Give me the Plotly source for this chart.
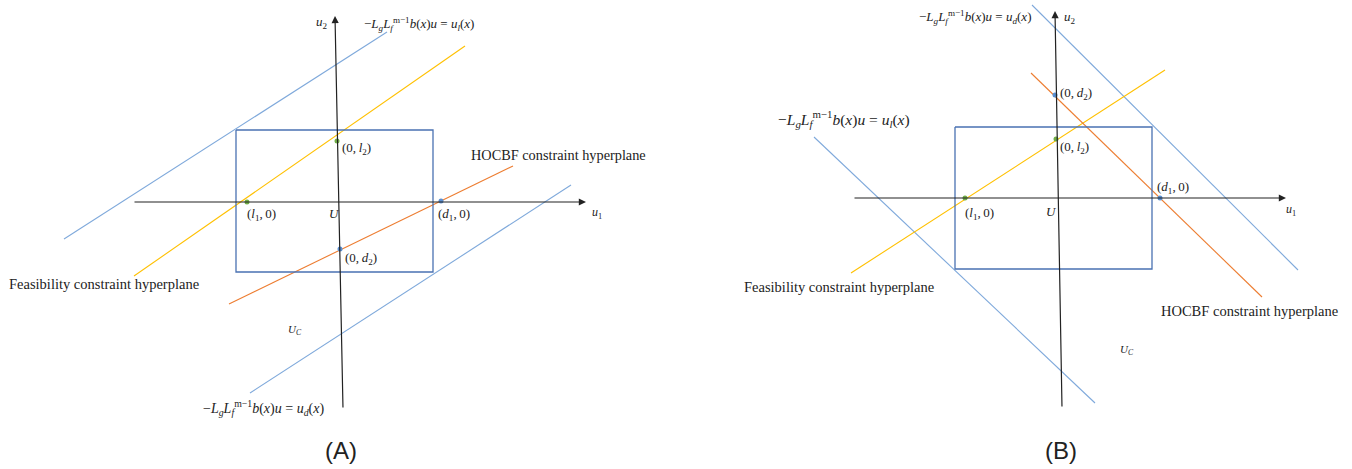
import plotly.graph_objects as go

W, H = 1352, 469

# ---------------- Panel A (pixel-space diagram coordinates) ----------------
A_u1_axis = [(133, 202), (586, 202)]
A_u2_axis = [(343, 409), (335, 16)]
A_box_x = [236, 433, 433, 236, 236]
A_box_y = [130, 130, 272, 272, 130]
A_blue_upper = [(64, 239), (387, 32)]
A_blue_lower = [(250, 393), (571, 185)]
A_yellow = [(134, 276), (465, 46)]
A_orange = [(229, 304), (513, 166)]
A_green_pts_x = [247, 337]
A_green_pts_y = [202, 141]
A_blue_pts_x = [441, 340]
A_blue_pts_y = [201, 249]

# ---------------- Panel B ----------------
B_u1_axis = [(853, 198), (1286, 198)]
B_u2_axis = [(1062, 408), (1055, 11)]
B_box_x = [955, 1152, 1152, 955, 955]
B_box_y = [127, 127, 269, 269, 127]
B_blue_right = [(1032, 5), (1298, 270)]
B_blue_left = [(814, 137), (1095, 403)]
B_yellow = [(851, 273), (1165, 70)]
B_orange = [(1031, 73), (1262, 297)]
B_green_pts_x = [965, 1056]
B_green_pts_y = [198, 139]
B_blue_pts_x = [1160, 1055]
B_blue_pts_y = [198, 95]

LIGHT_BLUE = "#7fa9db"
BOX_BLUE = "#4a72b2"
YELLOW = "#ffc000"
ORANGE = "#ed7d31"
GREEN = "#70ad47"
PT_BLUE = "#5b8fd0"
AXIS = "#222222"

SERIF = "Liberation Serif"
TS = "\u2009"

fig = go.Figure()


def seg(p, color, width=1.1):
    fig.add_trace(go.Scatter(x=[p[0][0], p[1][0]], y=[p[0][1], p[1][1]], mode="lines",
                             line=dict(color=color, width=width), hoverinfo="skip", showlegend=False))


for line, col in [(A_blue_upper, LIGHT_BLUE), (A_blue_lower, LIGHT_BLUE), (A_yellow, YELLOW), (A_orange, ORANGE),
                  (B_blue_right, LIGHT_BLUE), (B_blue_left, LIGHT_BLUE), (B_yellow, YELLOW), (B_orange, ORANGE)]:
    seg(line, col)

for bx, by in [(A_box_x, A_box_y), (B_box_x, B_box_y)]:
    fig.add_trace(go.Scatter(x=bx, y=by, mode="lines", line=dict(color=BOX_BLUE, width=1.3),
                             hoverinfo="skip", showlegend=False))

for px, py, col in [(A_green_pts_x, A_green_pts_y, GREEN), (A_blue_pts_x, A_blue_pts_y, PT_BLUE),
                    (B_green_pts_x, B_green_pts_y, GREEN), (B_blue_pts_x, B_blue_pts_y, PT_BLUE)]:
    fig.add_trace(go.Scatter(x=px, y=py, mode="markers", marker=dict(color=col, size=5),
                             hoverinfo="skip", showlegend=False))

# axes with arrows
for ax_line in [A_u1_axis, A_u2_axis, B_u1_axis, B_u2_axis]:
    fig.add_annotation(x=ax_line[1][0], y=ax_line[1][1], ax=ax_line[0][0], ay=ax_line[0][1],
                       xref="x", yref="y", axref="x", ayref="y", showarrow=True, arrowhead=2,
                       arrowsize=1.2, arrowwidth=1.2, arrowcolor=AXIS, text="")


def txt(x, y, s, size=13, anchor="left", font=SERIF, color="#222222"):
    fig.add_annotation(x=x, y=y, text=s, showarrow=False, xref="x", yref="y", xanchor=anchor,
                       yanchor="middle", font=dict(family=font, size=size, color=color))


eq_l = "−<i>L<sub>g</sub>L<sub>f</sub></i><sup>m−1</sup><i>b</i>(<i>x</i>)<i>u</i> = <i>u<sub>l</sub></i>(<i>x</i>)"
eq_d = "−<i>L<sub>g</sub>L<sub>f</sub></i><sup>m−1</sup><i>b</i>(<i>x</i>)<i>u</i> = <i>u<sub>d</sub></i>(<i>x</i>)"

# Panel A texts
txt(314, 22, "<i>u</i><sub>2</sub>", 13)
txt(590, 213, "<i>u</i><sub>1</sub>", 12)
txt(362, 24, eq_l, 13)
txt(201, 408, eq_d, 14)
txt(340, 148, "(0," + TS + "<i>l</i><sub>2</sub>)", 13)
txt(245, 214, "(<i>l</i><sub>1</sub>," + TS + "0)", 13)
txt(327, 213, "<i>U</i>", 13)
txt(436, 214, "(<i>d</i><sub>1</sub>," + TS + "0)", 13)
txt(343, 258, "(0," + TS + "<i>d</i><sub>2</sub>)", 13)
txt(286, 330, "<i>U<sub>C</sub></i>", 11)
txt(469, 155, "HOCBF constraint hyperplane", 14.3)
txt(7, 284, "Feasibility constraint hyperplane", 14.5)
txt(341, 450, "(A)", 24, anchor="center", font="Liberation Sans")

# Panel B texts
txt(1062, 17, "<i>u</i><sub>2</sub>", 13)
txt(1284, 210, "<i>u</i><sub>1</sub>", 12)
txt(917, 17, eq_d, 13)
txt(776, 119, eq_l, 15.5)
txt(1058, 93, "(0," + TS + "<i>d</i><sub>2</sub>)", 13)
txt(1058, 147, "(0," + TS + "<i>l</i><sub>2</sub>)", 13)
txt(963, 213, "(<i>l</i><sub>1</sub>," + TS + "0)", 13)
txt(1044, 211, "<i>U</i>", 13)
txt(1155, 187, "(<i>d</i><sub>1</sub>," + TS + "0)", 13)
txt(1118, 350, "<i>U<sub>C</sub></i>", 11)
txt(742, 287, "Feasibility constraint hyperplane", 14.5)
txt(1159, 311, "HOCBF constraint hyperplane", 14.5)
txt(1061, 450, "(B)", 24, anchor="center", font="Liberation Sans")

fig.update_layout(width=W, height=H, margin=dict(l=0, r=0, t=0, b=0),
                  paper_bgcolor="white", plot_bgcolor="white",
                  xaxis=dict(range=[0, W], visible=False, fixedrange=True),
                  yaxis=dict(range=[H, 0], visible=False, fixedrange=True))

fig.write_html("out.html", config={"displayModeBar": False},
               post_script="document.body.style.margin='0';document.body.style.overflow='hidden';")
